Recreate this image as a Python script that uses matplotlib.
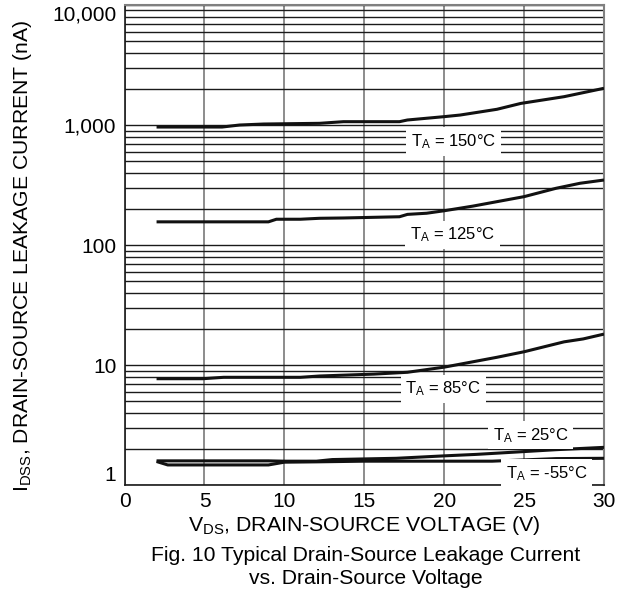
import matplotlib
matplotlib.use("Agg")
import matplotlib.pyplot as plt
from matplotlib.ticker import LogLocator, NullFormatter

plt.rcParams['font.family'] = ['Liberation Sans', 'DejaVu Sans']
plt.rcParams['mathtext.fontset'] = 'custom'
plt.rcParams['mathtext.rm'] = 'Liberation Sans'
plt.rcParams['mathtext.it'] = 'Liberation Sans'
plt.rcParams['mathtext.bf'] = 'Liberation Sans'

# ---- data ----
v_150 = [2, 6.1, 7.2, 8.7, 12.2, 13.7, 17.2, 17.7, 20.0, 21.0, 23.3, 24.8, 27.5, 30]
i_150 = [962, 962, 1000, 1019, 1033, 1066, 1066, 1101, 1174, 1211, 1352, 1514, 1722, 2023]

v_125 = [2, 9.0, 9.5, 11.0, 12.2, 13.7, 17.2, 17.7, 18.9, 20.0, 21.8, 25.0, 27.0, 28.5, 30]
i_125 = [156, 156, 164, 164, 167, 168, 172, 180, 184, 193, 211, 253, 297, 327, 348]

v_85 = [2, 4.9, 6.2, 11.0, 12.2, 15.6, 17.7, 20.0, 23.3, 25.0, 27.5, 28.7, 30]
i_85 = [7.69, 7.69, 7.9, 7.9, 8.1, 8.4, 8.7, 9.6, 11.6, 12.9, 15.6, 16.5, 18.1]

v_25 = [2, 5, 9, 10, 12, 13, 15, 17, 20, 22, 25, 27, 30]
i_25 = [1.59, 1.59, 1.59, 1.58, 1.58, 1.63, 1.65, 1.67, 1.75, 1.80, 1.90, 1.97, 2.06]

v_m55 = [2, 2.7, 9, 10, 12, 15, 20, 23, 27, 30]
i_m55 = [1.57, 1.47, 1.47, 1.55, 1.56, 1.58, 1.58, 1.58, 1.66, 1.67]

series = [(v_150, i_150), (v_125, i_125), (v_85, i_85), (v_25, i_25), (v_m55, i_m55)]

label_texts = [r'T$_{\mathrm{A}}$ = 150°C', r'T$_{\mathrm{A}}$ = 125°C', r'T$_{\mathrm{A}}$ = 85°C',
               r'T$_{\mathrm{A}}$ = 25°C', r'T$_{\mathrm{A}}$ = -55°C']
label_x = [20.6, 20.5, 19.95, 25.4, 26.4]
label_y = [730, 121, 6.3, 2.6, 1.25]

x_ticks = [0, 5, 10, 15, 20, 25, 30]
y_ticks = [1, 10, 100, 1000, 10000]
y_ticklabels = ['1', '10', '100', '1,000', '10,000']

# ---- figure ----
fig = plt.figure(figsize=(6.23, 5.96), dpi=100)
ax = fig.add_axes([0.2, 0.1862, 0.7695, 0.8054])

ax.set_yscale('log')
ax.set_xlim(0, 30)
ax.set_ylim(1, 10000)

ax.set_xticks(x_ticks)
ax.set_xticklabels([str(t) for t in x_ticks])
ax.set_yticks(y_ticks)
ax.set_yticklabels(y_ticklabels)
ax.yaxis.set_minor_locator(LogLocator(base=10, subs=range(2, 10)))
ax.yaxis.set_minor_formatter(NullFormatter())
ax.tick_params(axis='both', which='both', length=0, labelsize=15)
ax.tick_params(axis='y', pad=6)
ax.tick_params(axis='x', pad=5)

ylabs = ax.get_yticklabels()
ylabs[-1].set_verticalalignment('top')
ylabs[0].set_verticalalignment('bottom')

ax.grid(True, axis='y', which='both', color='#1a1a1a', linewidth=1.0, zorder=1)
ax.grid(True, axis='x', which='major', color='#6e6e6e', linewidth=1.1, zorder=1)
ax.set_axisbelow(True)

for s in ['left', 'bottom']:
    ax.spines[s].set_color('#1a1a1a')
    ax.spines[s].set_linewidth(1.2)
for s in ['top', 'right']:
    ax.spines[s].set_color('#808080')
    ax.spines[s].set_linewidth(1.5)

for v, i in series:
    ax.plot(v, i, color='#111111', linewidth=2.2, solid_capstyle='butt', zorder=3)

for t, x, y in zip(label_texts, label_x, label_y):
    ax.text(x, y, t, ha='center', va='center', fontsize=12, zorder=4,
            bbox=dict(facecolor='white', edgecolor='none', pad=3.5))

ax.set_xlabel(r'V$_{\mathrm{DS}}$, DRAIN-SOURCE VOLTAGE (V)', fontsize=15.3, labelpad=2)
ax.set_ylabel(r'I$_{\mathrm{DSS}}$, DRAIN-SOURCE LEAKAGE CURRENT (nA)', fontsize=15.2)
ax.yaxis.set_label_coords((34.0 - 124.5) / (0.7695 * 623), 0.477)

fig.text(0.587, 0.0685, 'Fig. 10 Typical Drain-Source Leakage Current', ha='center', va='center', fontsize=15.2)
fig.text(0.587, 0.030, 'vs. Drain-Source Voltage', ha='center', va='center', fontsize=15.2)

fig.savefig('out.png', dpi=100)
